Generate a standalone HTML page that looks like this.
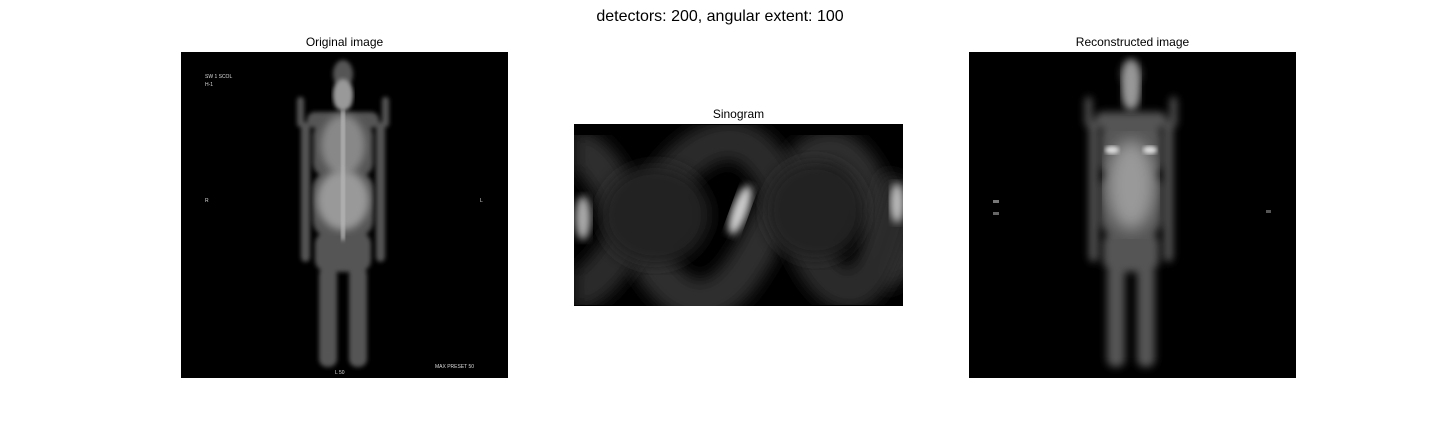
<!DOCTYPE html>
<html><head><meta charset="utf-8"><style>
body{margin:0;background:#fff;width:1440px;height:432px;overflow:hidden;font-family:"Liberation Sans","DejaVu Sans",sans-serif}
</style></head><body>
<svg width="1440" height="432" viewBox="0 0 1440 432" xmlns="http://www.w3.org/2000/svg">
<defs>
<filter id="b2"><feGaussianBlur stdDeviation="2"/></filter>
<filter id="b4"><feGaussianBlur stdDeviation="4"/></filter>
<filter id="b8"><feGaussianBlur stdDeviation="8"/></filter>
<clipPath id="c1"><rect x="181" y="52" width="327" height="326"/></clipPath>
<clipPath id="c2"><rect x="574" y="124" width="329" height="182"/></clipPath>
<clipPath id="c3"><rect x="969" y="52" width="327" height="326"/></clipPath>
<g id="body">
<ellipse cx="0" cy="22" rx="10" ry="14"/>
<rect x="-7" y="34" width="14" height="20"/>
<rect x="-36" y="60" width="72" height="16" rx="8"/>
<rect x="-46" y="45" width="7" height="30" rx="3"/>
<rect x="39" y="45" width="7" height="30" rx="3"/>
<rect x="-30" y="70" width="60" height="55" rx="14"/>
<rect x="-30" y="120" width="60" height="65" rx="16"/>
<rect x="-28" y="180" width="56" height="40" rx="12"/>
<rect x="-42" y="70" width="9" height="140" rx="5"/>
<rect x="33" y="70" width="9" height="140" rx="5"/>
<rect x="-24" y="215" width="18" height="100" rx="8"/>
<rect x="6" y="215" width="18" height="100" rx="8"/>
</g>
</defs>
<text x="720" y="21" text-anchor="middle" font-size="16" fill="#000">detectors: 200, angular extent: 100</text>

<g>
<text x="344.5" y="46" text-anchor="middle" font-size="12">Original image</text>
<rect x="181" y="52" width="327" height="326" fill="#000"/>
<g clip-path="url(#c1)">
<use href="#body" transform="translate(343,52)" fill="#555" filter="url(#b2)"/>
<ellipse cx="343" cy="145" rx="22" ry="30" fill="#888" filter="url(#b4)"/>
<ellipse cx="343" cy="200" rx="26" ry="30" fill="#999" filter="url(#b4)"/>
<ellipse cx="343" cy="95" rx="10" ry="16" fill="#999" filter="url(#b2)"/>
<rect x="341" y="110" width="4" height="130" fill="#bbb" filter="url(#b2)"/>
<text x="205" y="78" font-size="5" fill="#ddd">SW 1 SCOL</text>
<text x="205" y="86" font-size="5" fill="#ddd">H-1</text>
<text x="205" y="202" font-size="5" fill="#ddd">R</text>
<text x="480" y="202" font-size="5" fill="#ddd">L</text>
<text x="435" y="368" font-size="5" fill="#ddd">MAX PRESET 50</text>
<text x="335" y="374" font-size="5" fill="#ddd">L 50</text>
</g>
</g>

<g>
<text x="738.5" y="118" text-anchor="middle" font-size="12">Sinogram</text>
<rect x="574" y="124" width="329" height="182" fill="#000"/>
<g clip-path="url(#c2)">
<path d="M574,150 C620,150 640,300 700,300 C760,300 780,150 830,150 C870,150 890,260 903,280" stroke="#2e2e2e" stroke-width="40" fill="none" filter="url(#b8)"/>
<path d="M574,290 C620,290 660,140 730,140 C790,140 800,290 850,290 C880,290 895,200 903,180" stroke="#2a2a2a" stroke-width="40" fill="none" filter="url(#b8)"/>
<ellipse cx="655" cy="215" rx="55" ry="50" fill="#242424" filter="url(#b8)"/>
<ellipse cx="815" cy="210" rx="50" ry="50" fill="#242424" filter="url(#b8)"/>
<ellipse cx="740" cy="210" rx="8" ry="26" fill="#ccc" filter="url(#b4)" transform="rotate(20 740 210)"/>
<ellipse cx="583" cy="218" rx="8" ry="22" fill="#aaa" filter="url(#b4)"/>
<ellipse cx="897" cy="203" rx="7" ry="20" fill="#bbb" filter="url(#b4)"/>
</g>
</g>

<g>
<text x="1132.5" y="46" text-anchor="middle" font-size="12">Reconstructed image</text>
<rect x="969" y="52" width="327" height="326" fill="#000"/>
<g clip-path="url(#c3)">
<use href="#body" transform="translate(1131,52)" fill="#555" filter="url(#b4)"/>
<ellipse cx="1131" cy="185" rx="24" ry="45" fill="#999" filter="url(#b8)"/>
<ellipse cx="1131" cy="85" rx="9" ry="25" fill="#999" filter="url(#b4)"/>
<ellipse cx="1112" cy="150" rx="7" ry="4" fill="#ddd" filter="url(#b2)"/>
<ellipse cx="1150" cy="150" rx="7" ry="4" fill="#ddd" filter="url(#b2)"/>
<rect x="993" y="200" width="6" height="3" fill="#777"/>
<rect x="993" y="212" width="6" height="3" fill="#666"/>
<rect x="1266" y="210" width="5" height="3" fill="#555"/>
</g>
</g>
</svg>
</body></html>
